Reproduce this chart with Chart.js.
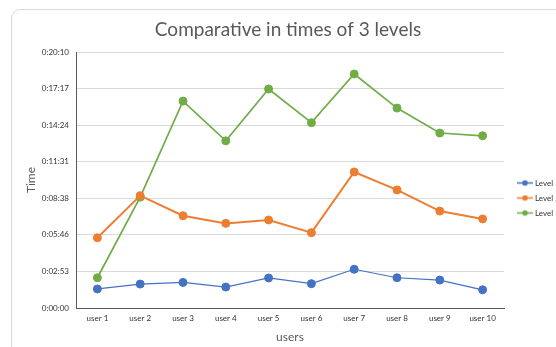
<!DOCTYPE html>
<html>
<head>
<meta charset="utf-8">
<title>Comparative in times of 3 levels</title>
<script src="https://cdn.jsdelivr.net/npm/chart.js@4"></script>
<style>
  html, body { margin: 0; padding: 0; background: #fff; width: 556px; height: 347px; overflow: hidden; }
  #card { position: absolute; left: 11px; top: 9px; width: 572px; height: 362px;
          border: 1px solid #d9d9d9; border-radius: 9px; background: #fff; }
  #c { position: absolute; left: 0; top: 0; }
</style>
</head>
<body>
<div id="card"><canvas id="c" width="556" height="340"></canvas></div>
<script>
// Categories and series (times as h:mm:ss)
const users = ['user 1', 'user 2', 'user 3', 'user 4', 'user 5', 'user 6', 'user 7', 'user 8', 'user 9', 'user 10'];
const seriesNames = ['Level 1', 'Level 2', 'Level 3'];
const level1Times = ['0:01:30', '0:01:53', '0:02:01', '0:01:39', '0:02:22', '0:01:55', '0:03:03', '0:02:23', '0:02:12', '0:01:26'];
const level2Times = ['0:05:32', '0:08:51', '0:07:16', '0:06:40', '0:06:56', '0:05:56', '0:10:43', '0:09:18', '0:07:38', '0:07:01'];
const level3Times = ['0:02:23', '0:08:44', '0:16:18', '0:13:10', '0:17:15', '0:14:36', '0:18:26', '0:15:45', '0:13:47', '0:13:34'];
const yTickLabels = ['0:00:00', '0:02:53', '0:05:46', '0:08:38', '0:11:31', '0:14:24', '0:17:17', '0:20:10'];
const seriesColors = ['#4472C4', '#ED7D31', '#70AD47'];

// h:mm:ss -> seconds
function toSeconds(t) {
  const [h, m, s] = t.split(':').map(Number);
  return h * 3600 + m * 60 + s;
}
const yTickSeconds = yTickLabels.map(toSeconds);

// Small line-with-dot swatch used as the legend marker
function legendSwatch(color) {
  const cv = document.createElement('canvas');
  cv.width = 24; cv.height = 9;
  const g = cv.getContext('2d');
  g.strokeStyle = color; g.lineWidth = 1.5;
  g.beginPath(); g.moveTo(8, 4.5); g.lineTo(24, 4.5); g.stroke();
  g.fillStyle = color;
  g.beginPath(); g.arc(16, 4.5, 2.8, 0, Math.PI * 2); g.fill();
  return cv;
}
const swatches = seriesColors.map(legendSwatch);

const lineWidths = [1.2, 2, 1.7];
const series = [level1Times, level2Times, level3Times];

const datasets = series.map((times, i) => ({
  label: seriesNames[i],
  data: times.map(toSeconds),
  borderColor: seriesColors[i],
  backgroundColor: seriesColors[i],
  borderWidth: lineWidths[i],
  pointRadius: 4,
  pointBorderWidth: 1,
  pointBackgroundColor: seriesColors[i],
  pointBorderColor: seriesColors[i],
  tension: 0
}));

const FONT = 'Lato, "Open Sans", sans-serif';

new Chart(document.getElementById('c'), {
  type: 'line',
  data: { labels: users, datasets },
  options: {
    responsive: false,
    animation: false,
    layout: { padding: { left: 8, right: 12, top: 0, bottom: 0 } },
    scales: {
      x: {
        offset: true,
        grid: { color: 'rgba(0,0,0,0)', drawTicks: false },
        border: { color: '#595959', width: 1 },
        ticks: { font: { family: FONT, size: 8 }, color: '#333333', padding: 6, maxRotation: 0, autoSkip: false },
        title: { display: true, text: 'users', font: { family: FONT, size: 12 }, color: '#595959', padding: { top: 0, bottom: 6 } },
        afterFit(scale) { scale.height = 42; }
      },
      y: {
        min: 0,
        max: yTickSeconds[yTickSeconds.length - 1],
        grid: { color: '#d9d9d9', lineWidth: 1, drawTicks: false },
        border: { color: '#595959', width: 1 },
        afterBuildTicks(scale) { scale.ticks = yTickSeconds.map(v => ({ value: v })); },
        ticks: {
          font: { family: FONT, size: 8 }, color: '#333333', padding: 7,
          callback: (v, i) => yTickLabels[i]
        },
        title: { display: true, text: 'Time', font: { family: FONT, size: 12 }, color: '#595959', padding: { top: 4, bottom: 0 } },
        afterFit(scale) { scale.width = 56; }
      }
    },
    plugins: {
      title: {
        display: true,
        text: 'Comparative in times of 3 levels',
        font: { family: FONT, size: 19, weight: 'normal' },
        color: '#595959',
        padding: { top: 8.6, bottom: 10.6 }
      },
      legend: {
        position: 'right',
        maxWidth: 52,
        title: { display: true, text: '', padding: 0, font: { size: 30 } },
        labels: {
          font: { family: FONT, size: 8 },
          color: '#333333',
          padding: 7,
          usePointStyle: true,
          pointStyleWidth: 20,
          generateLabels(chart) {
            return Chart.defaults.plugins.legend.labels.generateLabels(chart)
              .map((item, i) => Object.assign(item, { pointStyle: swatches[i] }));
          }
        }
      },
      tooltip: { enabled: false }
    }
  }
});
</script>
</body>
</html>
